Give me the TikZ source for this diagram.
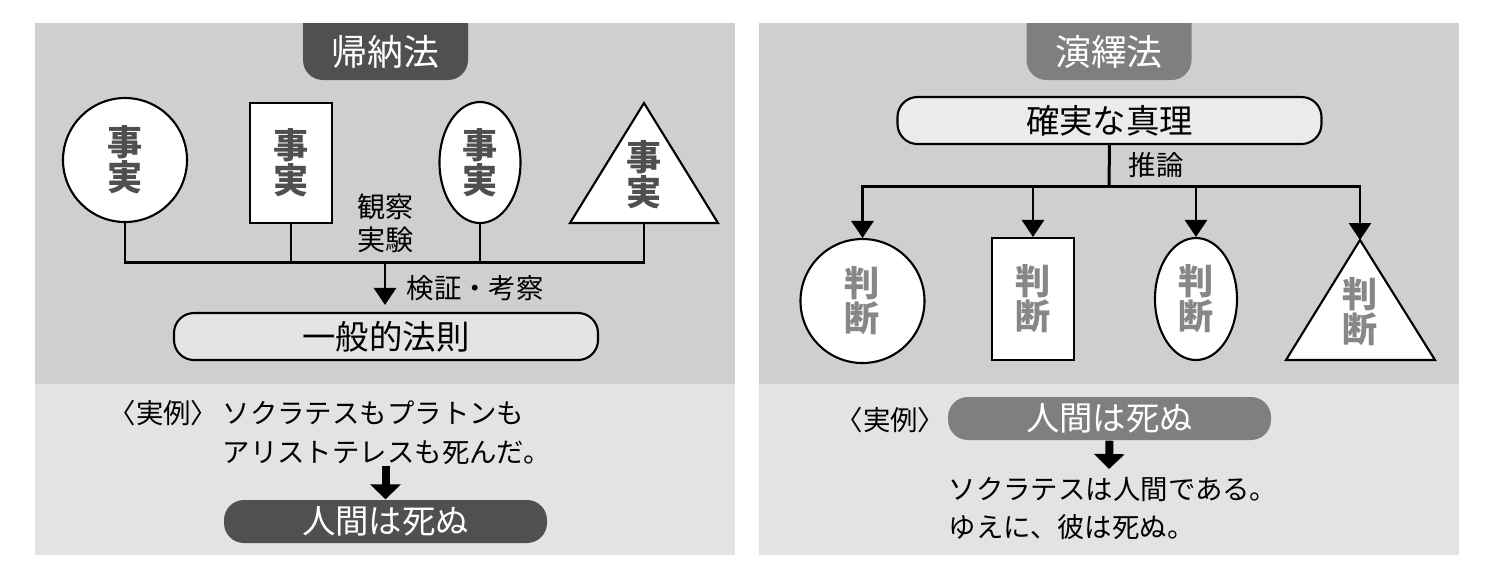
\documentclass[tikz,border=0pt]{standalone}
\usepackage{fontspec}
\newfontfamily\jp{Noto Sans CJK JP}
\usetikzlibrary{shapes.geometric,arrows.meta}
\definecolor{paneltop}{HTML}{CFCFCF}
\definecolor{panelbot}{HTML}{E3E3E3}
\definecolor{darktab}{HTML}{505050}
\definecolor{midtab}{HTML}{7F7F7F}
\definecolor{lawfill}{HTML}{E4E4E4}
\definecolor{truthfill}{HTML}{EBEBEB}
\definecolor{factgray}{HTML}{4F4F4F}
\definecolor{judgegray}{HTML}{878787}
\begin{document}
\begin{tikzpicture}[
    fact/.style={draw, line width=0.6pt, fill=white, inner sep=0pt, align=center,
      text=factgray, font=\jp\bfseries\fontsize{10}{10}\selectfont},
    judge/.style={fact, text=judgegray},
    bus/.style={line width=0.85pt},
    arr/.style={bus, -{Triangle[width=0.22cm,length=0.17cm]}},
    fatarr/.style={line width=0.08cm, -{Triangle[width=0.30cm,length=0.15cm]}},
    pill/.style={draw, line width=0.6pt, rounded corners=0.2cm, minimum width=4.24cm,
      minimum height=0.47cm, inner sep=0pt, font=\jp\fontsize{9.5}{10}\selectfont},
    res/.style={fill=#1, rounded corners=0.2cm, minimum width=3.23cm, minimum height=0.43cm,
      inner sep=0pt, text=white, font=\jp\fontsize{9.5}{10}\selectfont},
    small/.style={inner sep=0pt, align=center, font=\jp\fontsize{7.8}{9.4}\selectfont},
    ttl/.style={inner sep=0pt, text=white, font=\jp\fontsize{10.2}{12}\selectfont}
  ]
    \useasboundingbox (0,0) rectangle (14.94,-5.79);
    % shift of the right panel
    \def\dx{7.235}
    \def\split{-3.835}
    % panels
    \fill[paneltop] (0.35,-0.23) rectangle (7.35,\split);
    \fill[panelbot] (0.35,\split) rectangle (7.35,-5.55);
    \fill[paneltop] (0.35+\dx,-0.23) rectangle (7.35+\dx,\split);
    \fill[panelbot] (0.35+\dx,\split) rectangle (7.35+\dx,-5.55);
    % tabs
    \fill[darktab] [rounded corners=0.2cm] (3.03,-0.23) -- (3.03,-0.80) -- (4.68,-0.80) -- (4.68,-0.23);
    \fill[midtab] [rounded corners=0.2cm] (3.03+\dx,-0.23) -- (3.03+\dx,-0.80) -- (4.68+\dx,-0.80) -- (4.68+\dx,-0.23);
    \node[ttl] (indL) at (3.855,-0.52) {帰納法};
    \node[ttl] (dedR) at (3.855+\dx,-0.52) {演繹法};

    % four facts
    \node[fact, circle, minimum size=1.24cm] (f1) at (1.25,-1.60) {事\\実};
    \node[fact, rectangle, minimum width=0.82cm, minimum height=1.20cm] (f2) at (2.91,-1.63) {事\\実};
    \node[fact, ellipse, minimum width=0.81cm, minimum height=1.21cm] (f3) at (4.80,-1.625) {事\\実};
    \coordinate (f4a) at (6.44,-1.03);
    \coordinate (f4b) at (6.44,-2.23);
    \draw[line width=0.6pt, fill=white] (f4a) -- (5.70,-2.23) -- (7.18,-2.23) -- cycle;
    \node[fact, draw=none, fill=none] (f4) at (6.44,-1.745) {事\\実};
    \node[small, font=\jp\fontsize{8}{9.4}\selectfont] (obs) at (3.86,-2.235) {観察\\実験};
    % bus and law
    \coordinate (hub) at (3.85,-2.62);
    \draw[bus] (f1.south) |- (hub) -| (f4b);
    \draw[bus] (f2.south) -- (f2.south |- hub);
    \draw[bus] (f3.south) -- (f3.south |- hub);
    \node[pill, fill=lawfill] (law) at (3.86,-3.365) {一般的法則};
    \draw[arr, shorten >=0.07cm] (hub) -- (law.north -| hub);
    \node[small, anchor=west] (ver) at (4.06,-2.88) {検証・考察};
    % example, left
    \node[small, anchor=east] (reiL) at (2.19,-4.13) {〈実例〉};
    \node[small, anchor=west] (ex1) at (2.22,-4.13) {ソクラテスもプラトンも};
    \node[small, anchor=west] (ex2) at (2.22,-4.53) {アリストテレスも死んだ。};
    \node[res=darktab] (manL) at (3.855,-5.215) {人間は死ぬ};
    \draw[fatarr] (manL.north |- ex2.south) -- (manL.north);

    % truth and four judgements
    \node[pill, fill=truthfill] (truth) at (3.86+\dx,-1.205) {確実な真理};
    \coordinate (hubR) at (3.855+\dx,-1.86);
    \draw[bus] (truth.south) -- (hubR);
    \node[small, anchor=west] (inf) at (11.28,-1.65) {推論};
    \node[judge, circle, minimum size=1.24cm] (j1) at (8.625,-3.01) {判\\断};
    \node[judge, rectangle, minimum width=0.82cm, minimum height=1.22cm] (j2) at (10.33,-2.99) {判\\断};
    \node[judge, ellipse, minimum width=0.82cm, minimum height=1.22cm] (j3) at (11.96,-2.99) {判\\断};
    \coordinate (j4a) at (13.60,-2.40);
    \draw[line width=0.6pt, fill=white] (j4a) -- (12.86,-3.60) -- (14.35,-3.60) -- cycle;
    \node[judge, draw=none, fill=none] (j4) at (13.60,-3.115) {判\\断};
    \draw[arr] (hubR) -| (j1.north);
    \draw[arr] (hubR) -| (j4a);
    \draw[arr] (j2.north |- hubR) -- (j2.north);
    \draw[arr] (j3.north |- hubR) -- (j3.north);
    % example, right
    \node[res=midtab] (manR) at (3.86+\dx,-4.185) {人間は死ぬ};
    \node[small, anchor=east] (reiR) at (9.46,-4.20) {〈実例〉};
    \node[small, anchor=west] (con1) at (9.48,-4.90) {ソクラテスは人間である。};
    \node[small, anchor=west] (con2) at (9.48,-5.27) {ゆえに、彼は死ぬ。};
    \coordinate (tipR) at (3.855+\dx,-4.69);
    \draw[fatarr] (manR.south) -- (tipR);
\end{tikzpicture}
\end{document}
